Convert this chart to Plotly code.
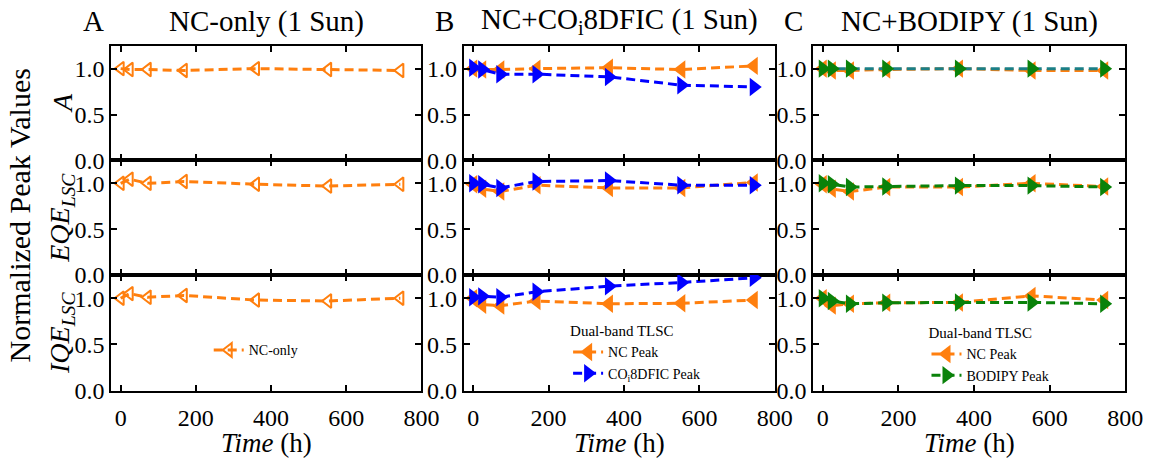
import plotly.graph_objects as go
from plotly.subplots import make_subplots

W, H = 1167, 465
FONT = "Liberation Serif"

# ---------------- data ----------------
time_h = [0, 24, 72, 168, 360, 552, 744]

# Panel A: NC-only
nc_only_A = [1.00, 0.99, 0.99, 0.98, 1.00, 0.99, 0.98]
nc_only_EQE = [1.00, 1.045, 1.00, 1.02, 0.99, 0.97, 0.99]
nc_only_IQE = [1.00, 1.05, 1.01, 1.03, 0.98, 0.97, 1.00]

# Panel B: NC + CO_i8DFIC
b_nc_A = [1.00, 0.99, 0.99, 1.00, 1.01, 0.99, 1.03]
b_co_A = [1.01, 0.99, 0.94, 0.94, 0.91, 0.82, 0.80]
b_nc_EQE = [0.99, 0.94, 0.91, 0.98, 0.95, 0.95, 1.01]
b_co_EQE = [1.00, 0.99, 0.95, 1.02, 1.03, 0.98, 0.98]
b_nc_IQE = [1.00, 0.93, 0.92, 0.97, 0.94, 0.945, 0.98]
b_co_IQE = [1.01, 1.02, 1.01, 1.07, 1.13, 1.17, 1.22]

# Panel C: NC + BODIPY
c_nc_A = [1.00, 0.98, 0.98, 0.99, 1.00, 0.98, 0.98]
c_bod_A = [1.00, 1.00, 1.00, 1.00, 1.00, 1.00, 1.00]
c_nc_EQE = [0.99, 0.94, 0.91, 0.96, 0.96, 1.00, 0.965]
c_bod_EQE = [1.00, 0.99, 0.96, 0.965, 0.975, 0.975, 0.96]
c_nc_IQE = [1.00, 0.92, 0.94, 0.95, 0.955, 1.025, 0.98]
c_bod_IQE = [1.00, 0.97, 0.94, 0.95, 0.955, 0.955, 0.94]

x_ticks = [0, 200, 400, 600, 800]
y_ticks = [0.0, 0.5, 1.0]
y_ticktext = ["0.0", "0.5", "1.0"]

panel_titles = ["NC-only (1 Sun)", "NC+CO<sub>i</sub>8DFIC (1 Sun)", "NC+BODIPY (1 Sun)"]
panel_letters = ["A", "B", "C"]
row_labels = ["<i>A</i>", "<i>EQE<sub>LSC</sub></i>", "<i>IQE<sub>LSC</sub></i>"]

ORANGE = "#ff7f0e"
BLUE = "#0000ff"
GREEN = "#0a820a"
TEAL = "#1b7f86"

# ---------------- layout helpers ----------------
def px(x):
    return x / W

def py(y):
    return 1 - y / H

col_px = [(113, 428), (471, 787), (826, 1143)]
row_px = [(47, 165), (165, 283), (283, 402)]

fig = make_subplots(rows=3, cols=3)

DASH = "9px,5px"

def add(row, col, y, color, symbol, name, legend, show, line_color=None, size=16, open_=False):
    marker = dict(symbol=symbol, size=size, color=color)
    if open_:
        marker = dict(symbol=symbol, size=size, color=color, line=dict(color=color, width=2))
    fig.add_trace(
        go.Scatter(
            x=time_h, y=y, mode="lines+markers", name=name,
            line=dict(color=line_color or color, width=3, dash=DASH),
            marker=marker, legend=legend, showlegend=show,
        ),
        row=row, col=col,
    )

A_series = [nc_only_A, nc_only_EQE, nc_only_IQE]
for r in range(3):
    add(r + 1, 1, A_series[r], ORANGE, "triangle-left-open", "NC-only", "legend", r == 2, size=12, open_=True)

B_nc = [b_nc_A, b_nc_EQE, b_nc_IQE]
B_co = [b_co_A, b_co_EQE, b_co_IQE]
for r in range(3):
    add(r + 1, 2, B_nc[r], ORANGE, "triangle-left", "NC Peak", "legend2", r == 2)
    add(r + 1, 2, B_co[r], BLUE, "triangle-right", "CO<sub>i</sub>8DFIC Peak", "legend2", r == 2)

C_nc = [c_nc_A, c_nc_EQE, c_nc_IQE]
C_bod = [c_bod_A, c_bod_EQE, c_bod_IQE]
for r in range(3):
    add(r + 1, 3, C_nc[r], ORANGE, "triangle-left", "NC Peak", "legend3", r == 2)
    add(r + 1, 3, C_bod[r], GREEN, "triangle-right", "BODIPY Peak", "legend3", r == 2,
        line_color=TEAL if r == 0 else GREEN)

for r in range(3):
    for c in range(3):
        x0, x1 = col_px[c]
        y0, y1 = row_px[r]
        fig.update_xaxes(
            row=r + 1, col=c + 1,
            domain=[px(x0), px(x1)], range=[-25, 800],
            tickvals=x_ticks, ticks="inside", ticklen=6, tickwidth=2, tickcolor="black",
            showline=True, linewidth=2, linecolor="black", mirror="ticks",
            showgrid=False, zeroline=False,
            showticklabels=(r == 2), ticklabelstandoff=4,
            tickfont=dict(family=FONT, size=24, color="black"),
        )
        fig.update_yaxes(
            row=r + 1, col=c + 1,
            domain=[py(y1), py(y0)], range=[0, 1.25],
            tickvals=y_ticks, ticktext=y_ticktext,
            ticks="inside", ticklen=6, tickwidth=2, tickcolor="black",
            showline=True, linewidth=2, linecolor="black", mirror="ticks",
            showgrid=False, zeroline=False,
            tickfont=dict(family=FONT, size=24, color="black"),
        )

def ann(text, x, y, size, angle=0):
    return dict(text=text, x=px(x), y=py(y), xref="paper", yref="paper",
                xanchor="center", yanchor="middle", showarrow=False, textangle=angle,
                font=dict(family=FONT, size=size, color="black"))

annotations = []
title_letter_x = [95, 451, 806]
title_center_x = [271, 629, 985]
for i in range(3):
    annotations.append(ann(panel_letters[i], title_letter_x[i], 22, 29))
    annotations.append(ann(panel_titles[i], title_center_x[i], 22, 29))
    cx = (col_px[i][0] + col_px[i][1]) / 2
    annotations.append(ann("<i>Time</i> (h)", cx, 456, 27))

annotations.append(ann("Normalized Peak Values", 20, 222, 30, -90))
for r in range(3):
    cy = (row_px[r][0] + row_px[r][1]) / 2
    annotations.append(ann(row_labels[r], 63, cy, 28, -90))

leg_font = dict(family=FONT, size=14, color="black")
fig.update_layout(
    width=W, height=H,
    margin=dict(l=0, r=0, t=0, b=0),
    paper_bgcolor="white", plot_bgcolor="white",
    annotations=annotations,
    legend=dict(x=px(212), y=py(344), xanchor="left", yanchor="top",
                font=leg_font, bgcolor="rgba(0,0,0,0)"),
    legend2=dict(x=px(577), y=py(326), xanchor="left", yanchor="top",
                 font=leg_font, bgcolor="rgba(0,0,0,0)", tracegroupgap=0,
                 title=dict(text="Dual-band TLSC", font=dict(family=FONT, size=15, color="black"))),
    legend3=dict(x=px(941), y=py(328), xanchor="left", yanchor="top",
                 font=leg_font, bgcolor="rgba(0,0,0,0)", tracegroupgap=0,
                 title=dict(text="Dual-band TLSC", font=dict(family=FONT, size=15, color="black"))),
)

fig.write_html("out.html")
